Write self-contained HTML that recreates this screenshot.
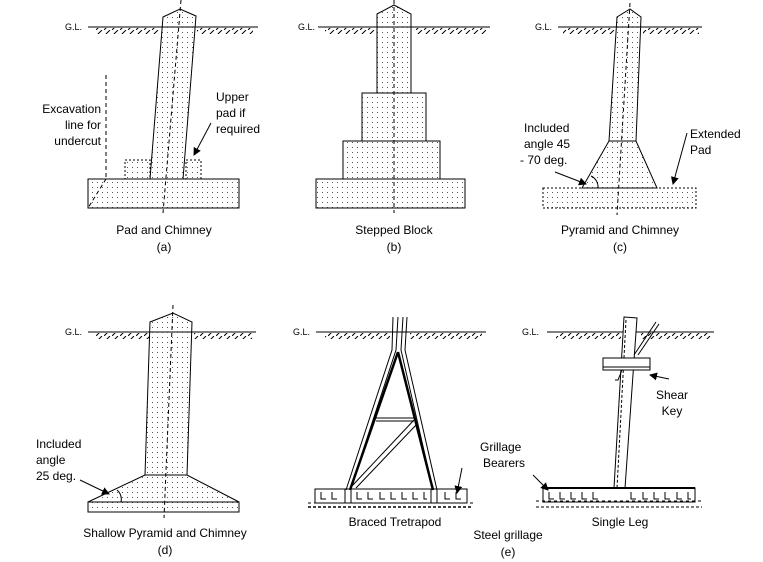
<!DOCTYPE html>
<html><head><style>
html,body{margin:0;padding:0;background:#fff;}
svg{display:block;font-family:"Liberation Sans",Arial,sans-serif;}
text{font-size:12px;fill:#000;}
.s{font-size:9px;}
</style></head><body>
<svg width="763" height="562" viewBox="0 0 763 562" xmlns="http://www.w3.org/2000/svg">
<defs>
<pattern id="d" width="5" height="5" patternUnits="userSpaceOnUse"><rect x="2" y="2" width="1" height="1" fill="#555"/></pattern>
<pattern id="h" width="8" height="6" patternUnits="userSpaceOnUse"><line x1="0" y1="6" x2="6" y2="0" stroke="#000" stroke-width="1"/></pattern>
<marker id="a" markerWidth="8" markerHeight="8" refX="7" refY="4" orient="auto" markerUnits="userSpaceOnUse"><path d="M0,0 L8,4 L0,8 z" fill="#000"/></marker>
</defs>
<g stroke="#000" stroke-width="1" fill="none">
<!-- (a) -->
<line x1="88" y1="27" x2="258" y2="27"/>
<rect x="95" y="28" width="64" height="6" fill="url(#h)" stroke="none"/>
<rect x="197" y="28" width="56" height="6" fill="url(#h)" stroke="none"/>
<rect x="88" y="179" width="151" height="29" fill="url(#d)"/>
<rect x="125" y="160" width="25" height="19" stroke-dasharray="2,2" fill="url(#d)"/>
<rect x="186" y="160" width="15" height="19" stroke-dasharray="2,2" fill="url(#d)"/>
<polygon points="163,17 180,9 196,16 183,179 150,179" fill="url(#d)"/>
<line x1="181" y1="0" x2="163" y2="213" stroke-dasharray="4,3"/>
<line x1="106" y1="75" x2="106" y2="179" stroke-dasharray="4,3"/>
<line x1="106" y1="179" x2="88" y2="208" stroke-dasharray="4,3"/>
<line x1="211" y1="123" x2="194" y2="155" marker-end="url(#a)"/>
<!-- (b) -->
<line x1="318" y1="27" x2="490" y2="27"/>
<rect x="325" y="28" width="50" height="6" fill="url(#h)" stroke="none"/>
<rect x="414" y="28" width="72" height="6" fill="url(#h)" stroke="none"/>
<rect x="316" y="179" width="149" height="29" fill="url(#d)"/>
<rect x="343" y="141" width="97" height="38" fill="url(#d)"/>
<rect x="362" y="93" width="64" height="48" fill="url(#d)"/>
<polygon points="377,14 394,5 411,14 411,93 377,93" fill="url(#d)"/>
<line x1="394" y1="0" x2="394" y2="213" stroke-dasharray="4,3"/>
<!-- (c) -->
<line x1="558" y1="27" x2="702" y2="27"/>
<rect x="563" y="28" width="52" height="6" fill="url(#h)" stroke="none"/>
<rect x="643" y="28" width="56" height="6" fill="url(#h)" stroke="none"/>
<rect x="543" y="188" width="153" height="20" stroke-dasharray="2,2" fill="url(#d)"/>
<polygon points="609,141 636,141 657,188 582,188" fill="url(#d)"/>
<polygon points="617,17 630,9 641,17 636,141 609,141" fill="url(#d)"/>
<line x1="630" y1="3" x2="617" y2="215" stroke-dasharray="4,3"/>
<path d="M598,188 A12,12 0 0,0 591,176"/>
<line x1="555" y1="172" x2="586" y2="184" marker-end="url(#a)"/>
<line x1="687" y1="133" x2="673" y2="184" marker-end="url(#a)"/>
<!-- (d) -->
<line x1="88" y1="332" x2="256" y2="332"/>
<rect x="95" y="333" width="54" height="6" fill="url(#h)" stroke="none"/>
<rect x="194" y="333" width="58" height="6" fill="url(#h)" stroke="none"/>
<rect x="88" y="502" width="151" height="10" fill="url(#d)"/>
<polygon points="145,475 187,475 239,502 88,502" fill="url(#d)"/>
<polygon points="150,322 173,313 192,322 187,475 145,475" fill="url(#d)"/>
<line x1="173" y1="305" x2="164" y2="518" stroke-dasharray="4,3"/>
<path d="M121,502 A12,12 0 0,0 117,490"/>
<line x1="80" y1="480" x2="109" y2="494" marker-end="url(#a)"/>
<!-- (e1) braced tetrapod -->
<line x1="316" y1="332" x2="486" y2="332"/>
<rect x="325" y="333" width="65" height="6" fill="url(#h)" stroke="none"/>
<rect x="410" y="333" width="72" height="6" fill="url(#h)" stroke="none"/>
<path d="M393,317 L392,350 L346,490 M398,317 L396,350 L350,490"/>
<path d="M403,317 L401,350 L433,490 M407,317 L405,350 L437,490"/>
<path d="M398,352 L350,490 M398,352 L433,490" stroke-width="2.5"/>
<line x1="376" y1="418" x2="414" y2="418"/><line x1="376" y1="421" x2="414" y2="421"/>
<line x1="414" y1="420" x2="352" y2="486"/><line x1="417" y1="424" x2="356" y2="488"/>
<rect x="315" y="489" width="152" height="14"/>
<line x1="345" y1="489" x2="345" y2="503"/><line x1="351" y1="489" x2="351" y2="503"/>
<line x1="431" y1="489" x2="431" y2="503"/><line x1="437" y1="489" x2="437" y2="503"/>
<path d="M321,492v7h5 M332,492v7h5 M357,492v7h5 M368,492v7h5 M380,492v7h5 M391,492v7h5 M402,492v7h5 M413,492v7h5 M424,492v7h3 M445,492v7h5 M456,492v7h5"/>
<line x1="308" y1="503" x2="474" y2="503" stroke-dasharray="3,3"/>
<line x1="308" y1="507" x2="472" y2="507" stroke-dasharray="3,2" stroke-width="1.5"/>
<line x1="462" y1="468" x2="457" y2="493" marker-end="url(#a)"/>
<!-- (e2) single leg -->
<line x1="547" y1="332" x2="714" y2="332"/>
<rect x="556" y="333" width="65" height="6" fill="url(#h)" stroke="none"/>
<rect x="641" y="333" width="70" height="6" fill="url(#h)" stroke="none"/>
<polygon points="624,317 637,318 625,488 614,488" fill="#fff"/>
<line x1="626" y1="320" x2="617" y2="488" stroke-dasharray="3,2"/>
<line x1="634" y1="355" x2="656" y2="322"/><line x1="638" y1="355" x2="659" y2="324"/>
<rect x="603" y="358" width="47" height="12" fill="#fff"/>
<line x1="603" y1="367" x2="650" y2="367"/>
<path d="M622,370 l-4,10 h-3"/>
<rect x="543" y="488" width="152" height="14"/>
<line x1="543" y1="488" x2="695" y2="488" stroke-width="2"/>
<path d="M549,492v7h5 M560,492v7h5 M571,492v7h5 M582,492v7h5 M593,492v7h5 M631,492v7h5 M643,492v7h5 M654,492v7h5 M665,492v7h5 M677,492v7h5 M688,492v7h3"/>
<line x1="536" y1="501" x2="702" y2="501" stroke-dasharray="3,3"/>
<line x1="536" y1="507" x2="702" y2="507" stroke-dasharray="3,2"/>
<line x1="669" y1="379" x2="650" y2="375" marker-end="url(#a)"/>
<line x1="533" y1="475" x2="548" y2="490" marker-end="url(#a)"/>
</g>
<!-- labels -->
<text class="s" x="65" y="30">G.L.</text>
<text class="s" x="298" y="30">G.L.</text>
<text class="s" x="535" y="30">G.L.</text>
<text class="s" x="65" y="335">G.L.</text>
<text class="s" x="293" y="335">G.L.</text>
<text class="s" x="522" y="335">G.L.</text>
<text x="101" y="113" text-anchor="end">Excavation</text>
<text x="101" y="129" text-anchor="end">line for</text>
<text x="101" y="145" text-anchor="end">undercut</text>
<text x="216" y="101">Upper</text>
<text x="216" y="117">pad if</text>
<text x="216" y="133">required</text>
<text x="164" y="234" text-anchor="middle">Pad and Chimney</text>
<text x="164" y="251" text-anchor="middle">(a)</text>
<text x="394" y="234" text-anchor="middle">Stepped Block</text>
<text x="394" y="251" text-anchor="middle">(b)</text>
<text x="524" y="132">Included</text>
<text x="524" y="148">angle 45</text>
<text x="520" y="164">- 70 deg.</text>
<text x="690" y="138">Extended</text>
<text x="690" y="154">Pad</text>
<text x="620" y="234" text-anchor="middle">Pyramid and Chimney</text>
<text x="620" y="251" text-anchor="middle">(c)</text>
<text x="36" y="448">Included</text>
<text x="36" y="464">angle</text>
<text x="36" y="480">25  deg.</text>
<text x="165" y="537" text-anchor="middle">Shallow Pyramid and Chimney</text>
<text x="165" y="554" text-anchor="middle">(d)</text>
<text x="480" y="451">Grillage</text>
<text x="483" y="467">Bearers</text>
<text x="672" y="399" text-anchor="middle">Shear</text>
<text x="672" y="415" text-anchor="middle">Key</text>
<text x="395" y="526" text-anchor="middle">Braced Tretrapod</text>
<text x="508" y="539" text-anchor="middle">Steel grillage</text>
<text x="508" y="556" text-anchor="middle">(e)</text>
<text x="620" y="526" text-anchor="middle">Single Leg</text>
</svg>
</body></html>
